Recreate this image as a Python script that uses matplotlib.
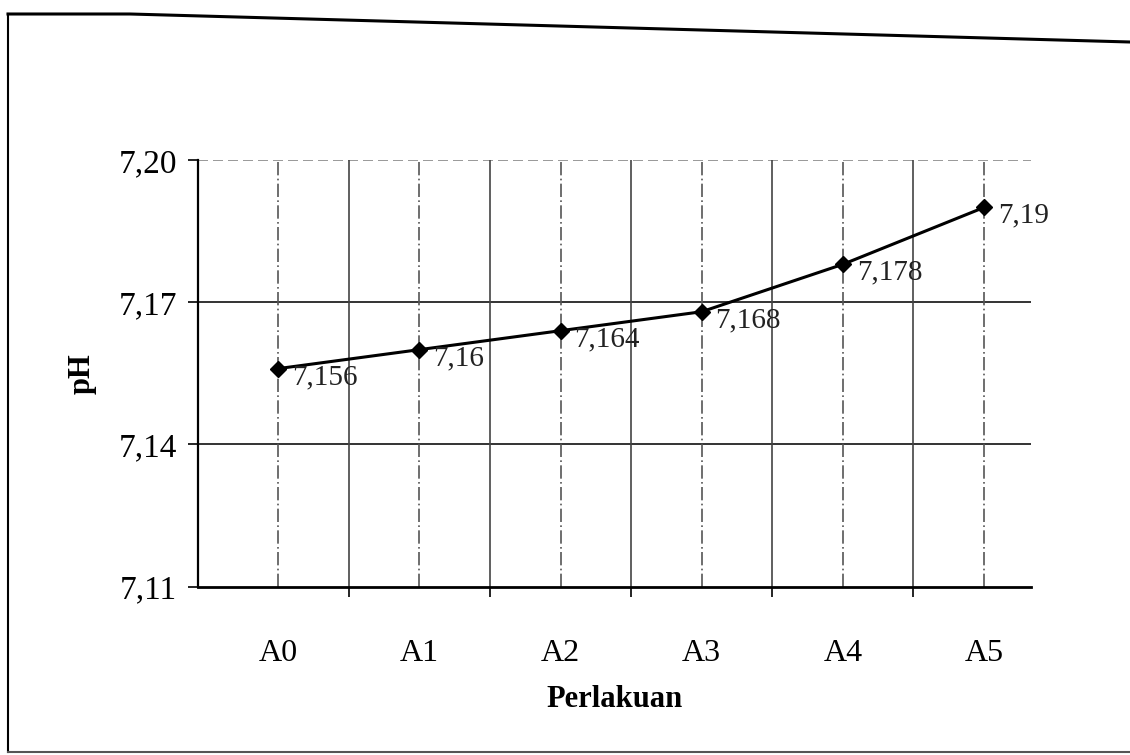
import numpy as np
import matplotlib
matplotlib.use("Agg")
import matplotlib.pyplot as plt
from matplotlib.lines import Line2D

# data
perlakuan = ["A0", "A1", "A2", "A3", "A4", "A5"]
ph = [7.156, 7.16, 7.164, 7.168, 7.178, 7.19]
ph_labels = ["7,156", "7,16", "7,164", "7,168", "7,178", "7,19"]
y_ticks = [7.11, 7.14, 7.17, 7.20]

plt.rcParams["font.family"] = ["Liberation Serif", "DejaVu Serif"]

fig = plt.figure(figsize=(11.3, 7.55), dpi=100)
ax = fig.add_axes([0.175, 0.223, 0.737, 0.565])

x = np.arange(len(perlakuan))
ax.plot(x, ph, color="black", lw=2.2, marker="D", markersize=8, zorder=3)
for xi, yi, lab in zip(x, ph, ph_labels):
    ax.annotate(lab, (xi, yi), xytext=(10, -6), textcoords="offset points",
                ha="left", va="center", fontsize=21, color="#222222")

ax.set_xlim(-0.57, 5.33)
ax.set_ylim(7.11, 7.20)
ax.set_yticks(y_ticks)
ax.set_yticklabels([f"{v:.2f}".replace(".", ",") for v in y_ticks], fontsize=24)
ax.set_xticks(x)
ax.set_xticklabels(perlakuan, fontsize=23)
ax.set_xticks(np.arange(0.5, 5.4, 1.0), minor=True)
ax.tick_params(axis="x", which="major", length=0, pad=38)
ax.tick_params(axis="x", which="minor", length=7, width=1.2, direction="out")
ax.tick_params(axis="y", length=7, width=1.2, direction="out", pad=8)

# grid
for yv in y_ticks[1:3]:
    ax.axhline(yv, color="#333333", lw=1.4, zorder=1)
ax.axhline(7.20, color="#888888", lw=1.2, ls=(0, (6, 3)), zorder=1)
for xv in np.arange(0.5, 5.4, 1.0):
    ax.axvline(xv, color="#444444", lw=1.2, zorder=1)
for xv in x:
    ax.axvline(xv, color="#555555", lw=1.2, ls=(0, (8, 2, 1, 2)), zorder=1)

for s in ["top", "right"]:
    ax.spines[s].set_visible(False)
ax.spines["left"].set_linewidth(1.6)
ax.spines["bottom"].set_linewidth(2.0)

ax.set_ylabel("pH", fontsize=22, fontweight="bold", labelpad=16)
ax.set_xlabel("Perlakuan", fontsize=22, fontweight="bold", labelpad=12)

# scanned frame around the chart
W, H = 1130, 755
def fx(px):
    return px / W
def fy(py):
    return 1 - py / H
fig.add_artist(Line2D([fx(8), fx(8)], [fy(14), fy(752)], color="black", lw=1.5))
fig.add_artist(Line2D([fx(8), fx(130), fx(1130)], [fy(14), fy(14), fy(42)], color="black", lw=2.2))
fig.add_artist(Line2D([fx(8), fx(1130)], [fy(752), fy(752)], color="#555555", lw=1.5))

fig.savefig("out.png", dpi=100)
